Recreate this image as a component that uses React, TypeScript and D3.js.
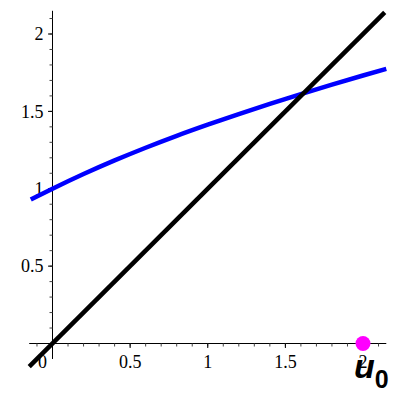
import React, { useEffect, useRef } from 'react';
import * as d3 from 'd3';

// curve (blue)
const curveX = [-0.14, 0, 0.2, 0.4, 0.6, 0.8, 1.0, 1.2, 1.4, 1.6, 1.8, 2.0, 2.15];
const curveY = [0.93, 1.0, 1.095, 1.183, 1.265, 1.342, 1.414, 1.483, 1.549, 1.612, 1.673, 1.732, 1.775];
// diagonal (black)
const diagX = [-0.15, 2.14];
const diagY = [-0.15, 2.14];
// point
const pointX = [2];
const pointY = [0];

const majorTicks = [0, 0.5, 1, 1.5, 2];
const majorLabels = ['0', '0.5', '1', '1.5', '2'];
const minorTicks = d3.range(-1, 22).map(i => i / 10);

const serif = 'Liberation Serif, Times New Roman, DejaVu Serif, serif';

const App: React.FC = () => {
  const svgRef = useRef<SVGSVGElement>(null);

  useEffect(() => {
    if (!svgRef.current) return;
    const svg = d3.select(svgRef.current);
    svg.selectAll('*').remove();

    const x = d3.scaleLinear().domain([0, 2]).range([52.5, 363]);
    const y = d3.scaleLinear().domain([0, 2]).range([343.5, 34]);
    const g = svg.append('g');

    // axes
    g.append('line').attr('x1', x(-0.15)).attr('x2', x(2.15)).attr('y1', y(0)).attr('y2', y(0)).attr('stroke', '#000').attr('stroke-width', 1);
    g.append('line').attr('x1', x(0)).attr('x2', x(0)).attr('y1', y(-0.1)).attr('y2', y(2.15)).attr('stroke', '#000').attr('stroke-width', 1);

    // minor ticks
    minorTicks.forEach(t => {
      if (t >= -0.1 && t <= 2.1) {
        g.append('line').attr('x1', x(t)).attr('x2', x(t)).attr('y1', y(0)).attr('y2', y(0) + 3).attr('stroke', '#444').attr('stroke-width', 1);
      }
      if (t >= -0.05 && t <= 2.1) {
        g.append('line').attr('x1', x(0) - 3).attr('x2', x(0)).attr('y1', y(t)).attr('y2', y(t)).attr('stroke', '#444').attr('stroke-width', 1);
      }
    });
    // major ticks + labels
    majorTicks.forEach((t, i) => {
      g.append('line').attr('x1', x(t)).attr('x2', x(t)).attr('y1', y(0)).attr('y2', y(0) + 4.5).attr('stroke', '#000').attr('stroke-width', 1);
      g.append('text')
        .attr('x', t === 0 ? x(t) - 10 : x(t)).attr('y', 368)
        .attr('text-anchor', 'middle')
        .style('font-family', serif)
        .style('font-size', '18px').attr('fill', '#000')
        .text(majorLabels[i]);
      if (t > 0) {
        g.append('line').attr('x1', x(0) - 4.5).attr('x2', x(0)).attr('y1', y(t)).attr('y2', y(t)).attr('stroke', '#000').attr('stroke-width', 1);
        g.append('text')
          .attr('x', 43.5).attr('y', y(t)).attr('dy', '0.35em')
          .attr('text-anchor', 'end')
          .style('font-family', serif)
          .style('font-size', '18px').attr('fill', '#000')
          .text(majorLabels[i]);
      }
    });

    // blue curve
    const line = d3.line<number>().x((d, i) => x(curveX[i])).y(d => y(d)).curve(d3.curveMonotoneX);
    g.append('path').attr('d', line(curveY)).attr('fill', 'none').attr('stroke', '#0000ff').attr('stroke-width', 4.5);

    // black diagonal
    g.append('line')
      .attr('x1', x(diagX[0])).attr('y1', y(diagY[0]))
      .attr('x2', x(diagX[1])).attr('y2', y(diagY[1]))
      .attr('stroke', '#000').attr('stroke-width', 4.5);

    // point
    pointX.forEach((px, i) => {
      g.append('circle').attr('cx', x(px)).attr('cy', y(pointY[i])).attr('r', 7.5).attr('fill', '#ff00ff');
    });

    // axis label u0
    const lab = g.append('text')
      .attr('x', 354).attr('y', 378)
      .style('font-family', 'Liberation Sans, Arial, sans-serif')
      .attr('font-weight', 'bold').attr('fill', '#000');
    lab.append('tspan').style('font-size', '34px').attr('font-style', 'italic').text('u');
    lab.append('tspan').style('font-size', '25px').attr('dy', 10).text('0');
  }, []);

  return (
    <svg ref={svgRef} width={400} height={400} style={{ position: 'absolute', left: 0, top: 0, background: '#fff' }} />
  );
};

export default App;
